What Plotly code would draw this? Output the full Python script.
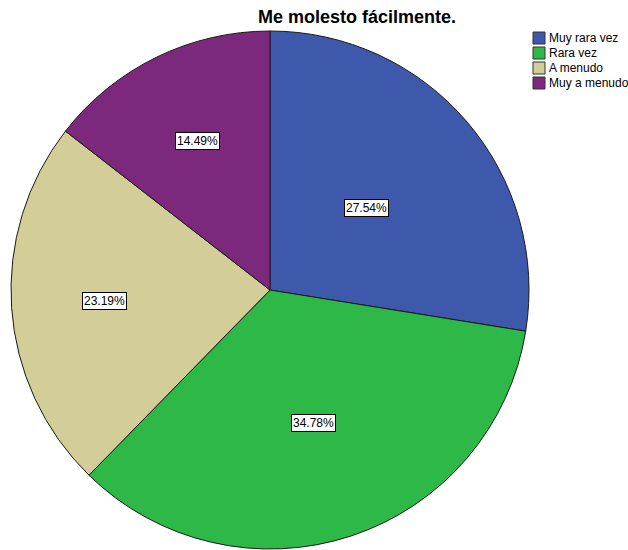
import math
import plotly.graph_objects as go

title = "Me molesto fácilmente."
categories = ["Muy rara vez", "Rara vez", "A menudo", "Muy a menudo"]
percentages = [27.54, 34.78, 23.19, 14.49]
colors = ["#3E58AC", "#2EB848", "#D3CE97", "#7C287D"]

# ---- layout parameters (pixels) ----
W, H = 628, 550
cx, cy, R = 270, 290, 259
label_r = [0.49, 0.54, 0.64, 0.64]          # label distance from centre, fraction of radius
leg_x0, leg_y0, leg_step, leg_sq = 533, 38, 15, 12
FONT = "Liberation Sans, Arial, sans-serif"

def px(x):
    return x / W

def py(y):
    return 1 - y / H

fig = go.Figure()
fig.add_trace(go.Pie(
    labels=categories,
    values=percentages,
    sort=False,
    direction="clockwise",
    rotation=0,
    marker=dict(colors=colors, line=dict(color="#1a1a1a", width=1)),
    textinfo="none",
    hoverinfo="label+percent",
    showlegend=False,
    domain=dict(x=[px(cx - R), px(cx + R)], y=[py(cy + R), py(cy - R)]),
))

# percentage boxes at mid-angle of each slice
total = sum(percentages)
cum = 0.0
for i, v in enumerate(percentages):
    mid = (cum + v / 2) / total * 2 * math.pi
    cum += v
    r = label_r[i] * R
    x = cx + r * math.sin(mid)
    y = cy - r * math.cos(mid)
    fig.add_annotation(
        x=px(x), y=py(y), xref="paper", yref="paper",
        xanchor="center", yanchor="middle",
        text=f"{v:.2f}%", showarrow=False,
        font=dict(family=FONT, size=12, color="#000000"),
        bgcolor="#FFFFFF", bordercolor="#000000", borderwidth=1, borderpad=1,
    )

# legend (drawn manually to match compact spacing)
for i, (lab, col) in enumerate(zip(categories, colors)):
    yc = leg_y0 + i * leg_step
    fig.add_shape(
        type="rect", xref="paper", yref="paper",
        x0=px(leg_x0), x1=px(leg_x0 + leg_sq),
        y0=py(yc + leg_sq / 2), y1=py(yc - leg_sq / 2),
        fillcolor=col, line=dict(color="#333333", width=1),
    )
    fig.add_annotation(
        x=px(leg_x0 + leg_sq + 2), y=py(yc), xref="paper", yref="paper",
        xanchor="left", yanchor="middle", showarrow=False,
        text=lab, font=dict(family=FONT, size=12, color="#000000"),
    )

fig.update_layout(
    width=W, height=H,
    margin=dict(l=0, r=0, t=0, b=0),
    paper_bgcolor="#FFFFFF",
    plot_bgcolor="#FFFFFF",
    showlegend=False,
    title=dict(text=f"<b>{title}</b>", x=px(357), xanchor="center", y=py(17), yanchor="middle",
               font=dict(family=FONT, size=18, color="#000000")),
)

fig.write_html("out.html", config={"displayModeBar": False},
               post_script="document.body.style.margin='0';")
